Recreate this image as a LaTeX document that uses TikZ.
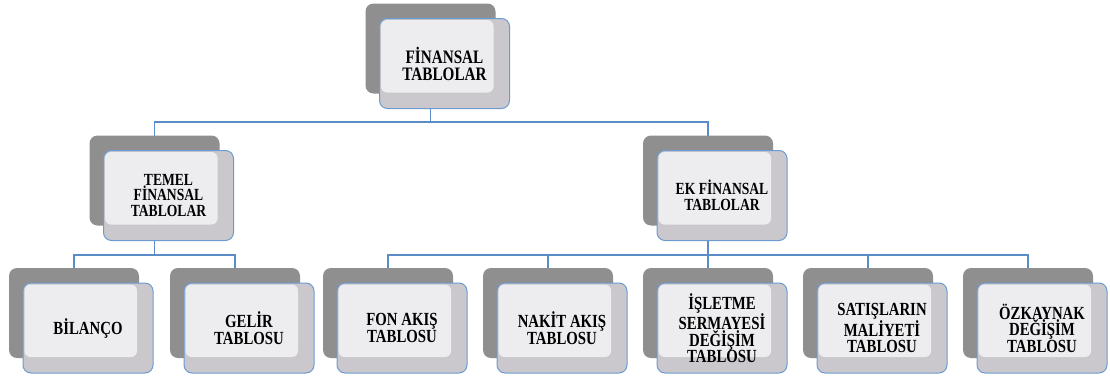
\documentclass[tikz,border=0pt]{standalone}
\usepackage{fontspec}
\newfontfamily\tablofont[FakeStretch=0.8]{Liberation Serif}
\usetikzlibrary{positioning, shadows, backgrounds}
\definecolor{boxblue}{HTML}{6C9BD2}
\definecolor{linkblue}{HTML}{5A8DC8}
\definecolor{backgray}{HTML}{8F8F8F}
\definecolor{boxgray}{HTML}{CAC8CC}
\definecolor{boxlight}{HTML}{EDEDF0}

\begin{document}
\begin{tikzpicture}[x=1pt, y=1pt, node distance=29pt,
    tablo/.style={rectangle, rounded corners=8pt, draw=boxblue, line width=1pt, fill=boxgray,
      minimum width=130pt, minimum height=90pt, align=center, inner sep=2pt,
      font=\tablofont\fontsize{17}{15.5}\selectfont\bfseries,
      general shadow={shadow xshift=-14pt, shadow yshift=15pt, fill=backgray},
      path picture={\fill[boxlight, rounded corners=6pt]
        ([shift={(1.5pt,-1.5pt)}]path picture bounding box.north west) rectangle
        ([shift={(-16pt,16pt)}]path picture bounding box.south east);}},
    alt/.style={tablo, font=\tablofont\fontsize{18.5}{16.5}\selectfont\bfseries},
    link/.style={draw=linkblue, line width=1.2pt}]

  \useasboundingbox (0,0) rectangle (1110,-378);

  % top level
  \node[tablo, font=\tablofont\fontsize{19}{17}\selectfont\bfseries] (ana) at (444.5,-63.5) {FİNANSAL\\TABLOLAR};

  % second level
  \node[tablo] (temel) at (168.5,-195.5) {TEMEL\\FİNANSAL\\TABLOLAR};
  \node[tablo] (ek) at (722,-195.5) {EK FİNANSAL\\TABLOLAR};

  % bottom row
  \node[alt] (bilanco) at (88,-328) {BİLANÇO};
  \node[alt] (gelir) [right=30pt of bilanco] {GELİR\\TABLOSU};
  \node[alt] (isletme) at (722,-328) {İŞLETME\\SERMAYESİ\\DEĞİŞİM\\TABLOSU};
  \node[alt] (nakit) [left=of isletme] {NAKİT AKIŞ\\TABLOSU};
  \node[alt] (fon) [left=of nakit] {FON AKIŞ\\TABLOSU};
  \node[alt] (satis) [right=of isletme] {SATIŞLARIN\\MALİYETİ\\TABLOSU};
  \node[alt] (ozkaynak) [right=of satis] {ÖZKAYNAK\\DEĞİŞİM\\TABLOSU};

  \coordinate (bus1) at (0,-122);
  \coordinate (bus2) at (0,-255);

  \begin{scope}[on background layer]
    \draw[link] ([xshift=-14pt]ana.south) -- ([xshift=-14pt]ana.south |- bus1)
      -| ([xshift=-14pt]temel.north);
    \draw[link] ([xshift=-14pt]ana.south |- bus1) -| ([xshift=-14pt]ek.north);
    \draw[link] ([xshift=-14pt]temel.south) -- ([xshift=-14pt]temel.south |- bus2)
      -| ([xshift=-14pt]bilanco.north);
    \draw[link] ([xshift=-14pt]temel.south |- bus2) -| ([xshift=-14pt]gelir.north);
    \draw[link] ([xshift=-14pt]fon.north) |- ([xshift=-14pt]ozkaynak.north |- bus2)
      -- ([xshift=-14pt]ozkaynak.north);
    \draw[link] ([xshift=-14pt]ek.south) -- ([xshift=-14pt]isletme.north);
    \foreach \n in {nakit, satis}
      \draw[link] ([xshift=-14pt]\n.north) -- ([xshift=-14pt]\n.north |- bus2);
  \end{scope}
\end{tikzpicture}
\end{document}
